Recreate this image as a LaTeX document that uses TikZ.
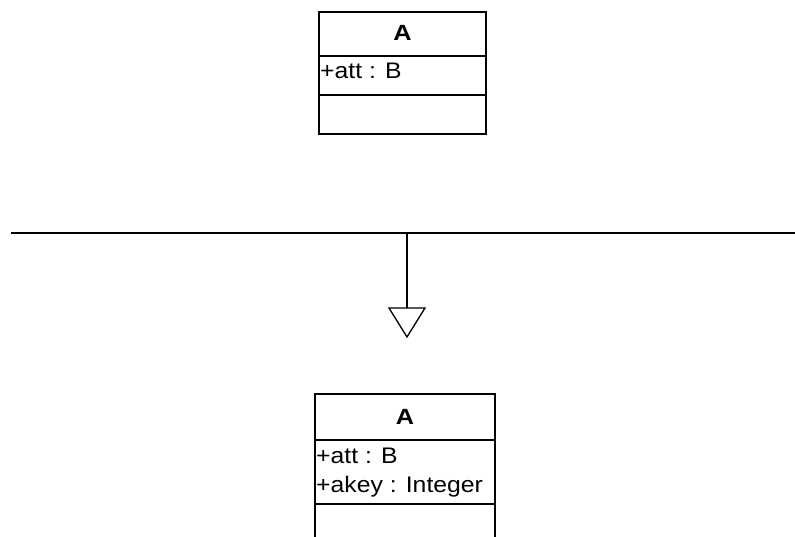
\documentclass[tikz,border=0pt]{standalone}
\usepackage{fontspec}
\setmainfont{Liberation Sans}
\begin{document}
\begin{tikzpicture}[x=1pt,y=-1pt,
  umlline/.style={line width=1.3pt,black},
  classname/.style={font=\fontsize{22}{25}\selectfont\bfseries,anchor=base,inner sep=0pt,xscale=1.15},
  attr/.style={font=\fontsize{22.5}{26}\selectfont,anchor=base west,inner sep=0pt,xscale=1.1}]
\useasboundingbox (0,0) rectangle (795,537);
\clip (0,0) rectangle (795,537);

% class A before the change
\draw[umlline] (319,12) rectangle (486,134);
\draw[umlline] (319,56) -- (486,56);
\draw[umlline] (319,95) -- (486,95);
\node[classname] (nameA) at (402.5,41) {A};
\node[attr] (attA) at (320,79) {+att : B};

% separator with the transformation arrow
\coordinate (sepL) at (11,233);
\coordinate (sepR) at (795,233);
\coordinate (sepM) at (407,233);
\coordinate (triTop) at (407,308);
\coordinate (triL) at (389,308);
\coordinate (triR) at (425,308);
\coordinate (triApex) at (407,337);
\draw[umlline] (sepL) -- (sepR);
\draw[umlline] (sepM) -- (triTop);
\draw[umlline,line join=miter] (triL) -- (triR) -- (triApex) -- cycle;

% class A after the change
\draw[umlline] (315,394) rectangle (495,560);
\draw[umlline] (315,440) -- (495,440);
\draw[umlline] (315,504) -- (495,504);
\node[classname] (nameA2) at (405,424) {A};
\node[attr] (attA2) at (316,463) {+att : B};
\node[attr] (akeyA2) at (316,492) {+akey : Integer};
\end{tikzpicture}
\end{document}
